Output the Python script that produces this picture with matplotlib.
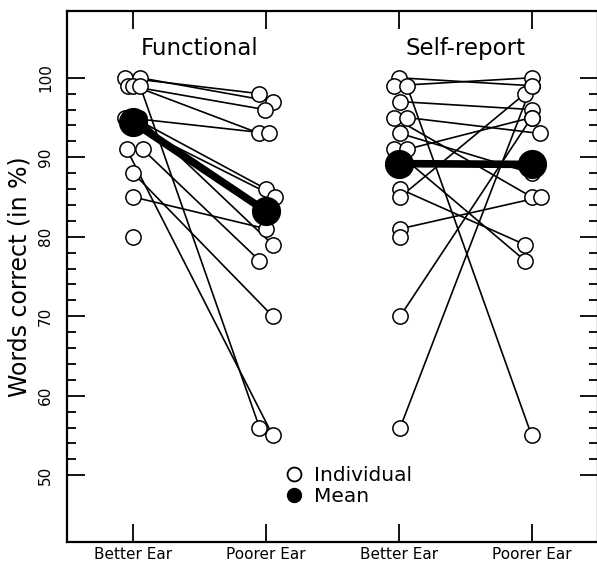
import numpy as np
import matplotlib
matplotlib.use('Agg')
import matplotlib.pyplot as plt
from matplotlib.lines import Line2D
from matplotlib.ticker import FixedLocator

# word scores (%) per subject, better ear vs poorer ear
func_better = [100, 100, 99, 99, 99, 95, 95, 95, 94, 91, 91, 88, 85, 80]
func_poorer = [98, 97, 96, 93, 56, 93, 86, 79, 85, 55, 77, 70, 81, np.nan]
func_better_dx = [-0.06, 0.05, -0.04, 0.0, 0.05, -0.06, 0.0, 0.04, 0.0, -0.05, 0.07, 0.0, 0.0, 0.0]
func_poorer_dx = [-0.05, 0.05, -0.01, -0.05, -0.05, 0.02, 0.0, 0.05, 0.07, 0.05, -0.05, 0.05, 0.0, 0.0]

self_better = [100, 99, 99, 97, 95, 95, 93, 91, 91, 86, 85, 81, 80, 70, 56]
self_poorer = [99, 100, 55, 96, 85, 93, 88, 77, 95, 79, 98, 85, np.nan, 95, 99]
self_better_dx = [0.0, -0.04, 0.06, 0.01, -0.04, 0.06, 0.01, -0.04, 0.06, 0.01, 0.01, 0.01, 0.01, 0.01, 0.01]
self_poorer_dx = [0.0, 0.0, 0.0, 0.0, 0.0, 0.06, 0.0, -0.05, 0.0, -0.05, -0.05, 0.07, 0.0, 0.0, 0.0]

func_mean = [94.4, 83.2]
self_mean = [89.2, 89.1]

panel_titles = ["Functional", "Self-report"]
tick_labels = ["Better Ear", "Poorer Ear", "Better Ear", "Poorer Ear"]

fig = plt.figure(figsize=(5.97, 5.67), dpi=100)
ax = fig.add_axes([67 / 597, 25 / 567, 531 / 597, 531 / 567])

def draw_panel(x0, better, poorer, bdx, pdx, mean):
    for b, p, db, dp in zip(better, poorer, bdx, pdx):
        xs = [x0 + db, x0 + 1 + dp]
        ax.plot(xs, [b, p], '-', color='black', lw=1.2, zorder=2)
        ax.plot(xs, [b, p], 'o', ms=11, mfc='white', mec='black', mew=1.1, zorder=3)
    ax.plot([x0, x0 + 1], mean, '-', color='black', lw=5.5, zorder=4)
    ax.plot([x0, x0 + 1], mean, 'o', ms=20, color='black', zorder=5)

draw_panel(1, func_better, func_poorer, func_better_dx, func_poorer_dx, func_mean)
draw_panel(3, self_better, self_poorer, self_better_dx, self_poorer_dx, self_mean)

ax.text(1.5, 103.7, panel_titles[0], ha='center', va='center', fontsize=16.5)
ax.text(3.5, 103.7, panel_titles[1], ha='center', va='center', fontsize=16.5)

ax.set_xlim(0.5, 4.5)
ax.set_ylim(41.6, 108.4)
ax.set_xticks([1, 2, 3, 4])
ax.set_xticklabels(tick_labels, fontsize=11)
ax.set_yticks([50, 60, 70, 80, 90, 100])
ax.yaxis.set_minor_locator(FixedLocator([v for v in range(52, 100, 2) if v % 10]))
ax.tick_params(axis='both', which='both', direction='in', top=True, right=True, width=1.3)
ax.tick_params(axis='both', which='major', length=13)
ax.tick_params(axis='y', which='minor', length=6.5)
ax.tick_params(axis='y', labelsize=11, pad=10)
for t in ax.get_yticklabels():
    t.set_rotation(90)
    t.set_va('center')
ax.set_ylabel('Words correct (in %)', fontsize=17, labelpad=5)
for s in ax.spines.values():
    s.set_linewidth(1.6)

handles = [
    Line2D([], [], ls='none', marker='o', ms=10, mfc='white', mec='black', mew=1.3),
    Line2D([], [], ls='none', marker='o', ms=10, color='black'),
]
ax.legend(handles, ['Individual', 'Mean'], loc='upper left', bbox_to_anchor=(0.39, 0.162),
          frameon=False, fontsize=14.5, handlelength=1.0, handletextpad=0.5,
          labelspacing=0.1, borderpad=0)

plt.savefig('out.png', dpi=100)
